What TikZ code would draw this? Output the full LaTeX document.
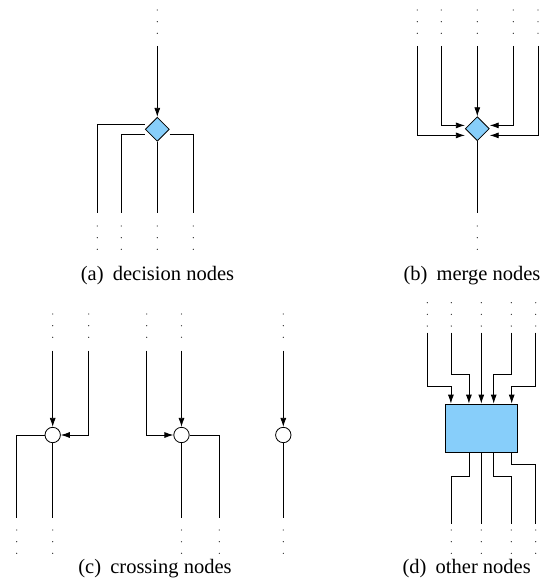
\documentclass[tikz,border=0pt]{standalone}
\usepackage{fontspec}
\setmainfont{Liberation Serif}
\usetikzlibrary{arrows.meta,shapes.geometric}
\definecolor{nodeblue}{RGB}{135,206,250}
\newcommand{\dotcol}[2]{\foreach \k in {0,1,2}{\fill[dotc] (#1,#2+\k*11.67) circle (0.65pt);}}
\tikzset{
  conn/.style={line width=0.8pt},
  arr/.style={conn,-{Latex[length=9pt,width=6pt]}},
  dotc/.style={black!80},
  decnode/.style={diamond,draw,line width=0.8pt,fill=nodeblue,inner sep=0pt,minimum width=24pt,minimum height=24pt},
  crossnode/.style={circle,draw,line width=0.8pt,fill=white,inner sep=0pt,minimum size=15.4pt},
  othernode/.style={rectangle,draw,line width=0.8pt,fill=nodeblue,inner sep=0pt,minimum width=72pt,minimum height=48.3pt},
  captext/.style={anchor=base,font=\rmfamily\fontsize{20.5}{24}\selectfont,inner sep=0pt}
}
\begin{document}
\begin{tikzpicture}[x=1pt,y=-1pt]
\useasboundingbox (0,0) rectangle (554,588);

% ---------- (a) decision nodes ----------
\node[decnode] (da) at (157.3,129.3) {};
\coordinate (a-in) at (157.3,46);
\coordinate (a-o1) at (97.3,213.3);
\coordinate (a-o2) at (121.3,213.3);
\coordinate (a-o3) at (157.3,213.3);
\coordinate (a-o4) at (193.3,213.3);
\draw[arr] (a-in) -- (da.north);
\draw[conn] ([yshift=5.3pt]da.west) -| (a-o1);
\draw[conn] ([yshift=-5.4pt]da.west) -| (a-o2);
\draw[conn] (da.south) -- (a-o3);
\draw[conn] ([yshift=-5.4pt]da.east) -| (a-o4);
\dotcol{157.3}{10}
\foreach \x in {97.3,121.3,157.3,193.3}{\dotcol{\x}{226}}
\node[captext] (capa) at (157.5,280) {(a)\hspace{0.45em}decision nodes};

% ---------- (b) merge nodes ----------
\node[decnode] (db) at (477.3,128.7) {};
\coordinate (b-i1) at (417.3,46);
\coordinate (b-i2) at (441.3,46);
\coordinate (b-i3) at (477.3,46);
\coordinate (b-i4) at (513.3,46);
\coordinate (b-i5) at (538,46);
\coordinate (b-o) at (477.3,213.3);
\draw[arr] (b-i1) |- ([yshift=-6.7pt]db.west);
\draw[arr] (b-i2) |- ([yshift=3.3pt]db.west);
\draw[arr] (b-i3) -- (db.north);
\draw[arr] (b-i4) |- ([yshift=3.3pt]db.east);
\draw[arr] (b-i5) |- ([yshift=-6.7pt]db.east);
\draw[conn] (db.south) -- (b-o);
\foreach \x in {417.3,441.3,477.3,513.3,538}{\dotcol{\x}{10}}
\dotcol{477.3}{226}
\node[captext] (capb) at (472,280) {(b)\hspace{0.45em}merge nodes};

% ---------- (c) crossing nodes ----------
\node[crossnode] (c1) at (52.7,435) {};
\node[crossnode] (c2) at (181.5,435) {};
\node[crossnode] (c3) at (283.3,435) {};
\coordinate (c-i1) at (52.7,350.7);
\coordinate (c-i2) at (88.7,350.7);
\coordinate (c-i3) at (146.7,350.7);
\coordinate (c-i4) at (181.5,350.7);
\coordinate (c-i5) at (283.3,350.7);
\coordinate (c-o1) at (16.7,517.7);
\coordinate (c-o2) at (52.7,517.7);
\coordinate (c-o3) at (219.3,517.7);
\coordinate (c-o4) at (181.5,517.7);
\coordinate (c-o5) at (283.3,517.7);
\draw[arr] (c-i1) -- (c1.north);
\draw[arr] (c-i2) |- (c1.east);
\draw[conn] (c1.west) -| (c-o1);
\draw[conn] (c1.south) -- (c-o2);
\draw[arr] (c-i3) |- (c2.west);
\draw[arr] (c-i4) -- (c2.north);
\draw[conn] (c2.east) -| (c-o3);
\draw[conn] (c2.south) -- (c-o4);
\draw[arr] (c-i5) -- (c3.north);
\draw[conn] (c3.south) -- (c-o5);
\foreach \x in {52.7,88.7,146.7,181.5,283.3}{\dotcol{\x}{314}}
\foreach \x in {16.7,52.7,181.5,219.3,283.3}{\dotcol{\x}{530}}
\node[captext] (capc) at (155,573.5) {(c)\hspace{0.45em}crossing nodes};

% ---------- (d) other nodes ----------
\node[othernode] (box) at (481.3,428.15) {};
\coordinate (d-i1) at (427.3,332.7);
\coordinate (d-i2) at (451.3,332.7);
\coordinate (d-i3) at (481.3,332.7);
\coordinate (d-i4) at (511.3,332.7);
\coordinate (d-i5) at (535.7,332.7);
\coordinate (d-o1) at (451.3,524);
\coordinate (d-o2) at (481.3,524);
\coordinate (d-o3) at (511.3,524);
\coordinate (d-o4) at (535.7,524);
\draw[arr] (d-i1) -- ++(0,54) -| ([xshift=6pt]box.north west);
\draw[arr] (d-i2) -- ++(0,41.3) -| ([xshift=24pt]box.north west);
\draw[arr] (d-i3) -- (box.north);
\draw[arr] (d-i4) -- ++(0,41.3) -| ([xshift=-24pt]box.north east);
\draw[arr] (d-i5) -- ++(0,54) -| ([xshift=-6pt]box.north east);
\draw[conn] ([xshift=24pt]box.south west) -- ++(0,23.7) -| (d-o1);
\draw[conn] (box.south) -- (d-o2);
\draw[conn] ([xshift=-24pt]box.south east) -- ++(0,23.7) -| (d-o3);
\draw[conn] ([xshift=-6pt]box.south east) -- ++(0,11.7) -| (d-o4);
\foreach \x in {427.3,451.3,481.3,511.3,535.7}{\dotcol{\x}{302.7}}
\foreach \x in {451.3,481.3,511.3,535.7}{\dotcol{\x}{530}}
\node[captext] (capd) at (466.7,573.5) {(d)\hspace{0.45em}other nodes};
\end{tikzpicture}
\end{document}
